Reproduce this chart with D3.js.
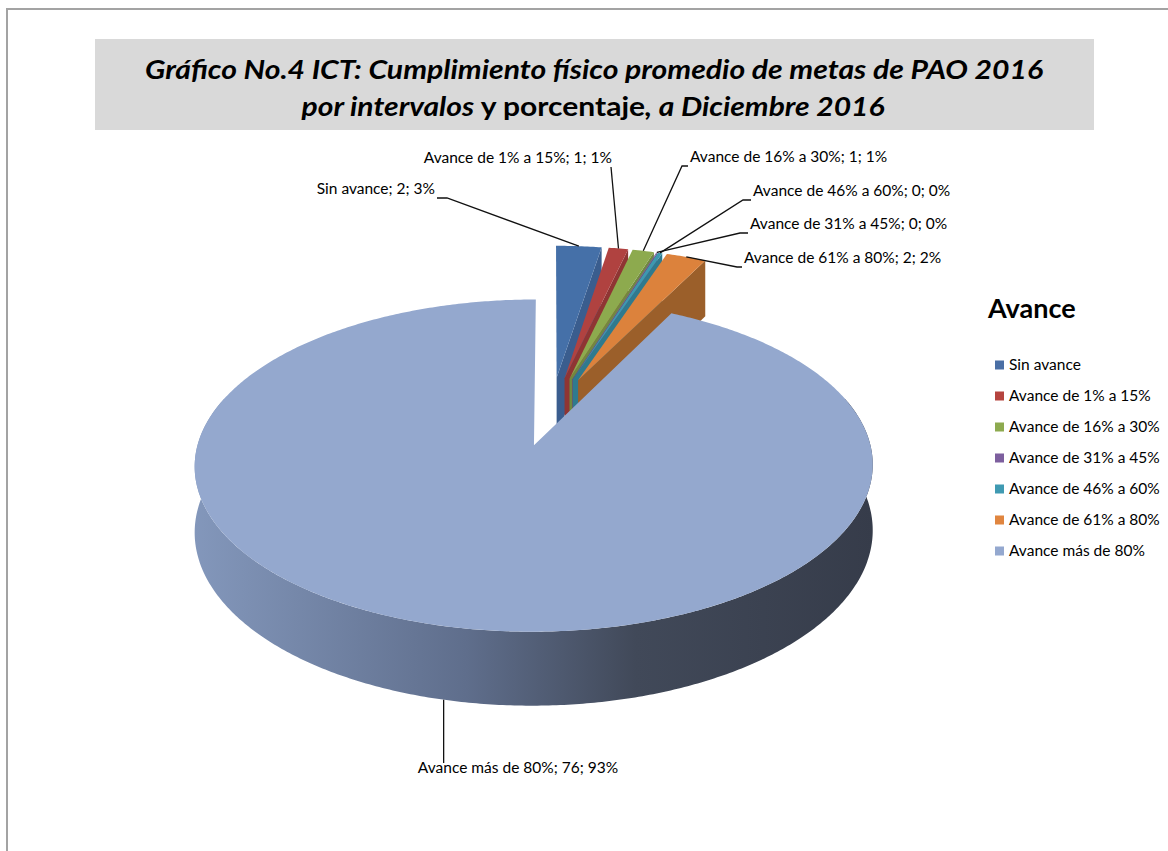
<!DOCTYPE html>
<html>
<head>
<meta charset="utf-8">
<script src="https://cdnjs.cloudflare.com/ajax/libs/d3/7.8.5/d3.min.js"></script>
<style>
  html, body { margin: 0; padding: 0; background: #fff; }
  svg { display: block; }
  text { font-family: Lato, "Open Sans", sans-serif; fill: #000; }
</style>
</head>
<body>
<svg id="chart"></svg>
<script>
/* Data */
const categories = [
  'Sin avance', 'Avance de 1% a 15%', 'Avance de 16% a 30%', 'Avance de 31% a 45%',
  'Avance de 46% a 60%', 'Avance de 61% a 80%', 'Avance más de 80%'
]
// values as drawn (labels show them rounded)
const values = [2.1, 0.9, 1.0, 0.05, 0.2, 1.85, 76.4]

/* Colors */
const TOP = ['#4570a8', '#b04240', '#8daa4e', '#7c5f9d', '#3d98b0', '#dc823c', '#94a8ce']
const WALL = ['#3a5d8e', '#8f3533', '#71893e', '#614a7c', '#2f7a8e', '#9b5f2a', '#5d6b88']
const SWATCH = ['#4a6fa5', '#b5443f', '#8daa4f', '#7d5f9e', '#3f9ab2', '#e0853f', '#94a8cf']

/* label layout: [x, y, anchor, line start x, elbow x] */
const LABELS = [
  [435, 198, 'end', 437, 447],
  [612, 167, 'end', 611, 611],
  [690, 166, 'start', 688, 682],
  [750, 233, 'start', 748, 740],
  [753, 200, 'start', 751, 743],
  [744, 267, 'start', 742, 737],
  [518, 777, 'middle', null, null]
]

const W = 1168, H = 851
const svg = d3.select('#chart').attr('width', W).attr('height', H)

// frame
svg.append('rect').attr('x', 7).attr('y', 9).attr('width', W + 20).attr('height', H + 20)
  .attr('fill', 'none').attr('stroke', '#a3a3a3').attr('stroke-width', 2)

/* perspective of the pie plane */
const V = { cx: 551, cy: 411, a: 155.3, b: 327.8, k: 0.12, c: 63.2, explode: 0.22 }
function proj(X, Z, down) {
  let w = 1 + V.k * Z
  return [V.cx + V.b * X / w, V.cy - V.a * Z / w + (down ? V.c / w : 0)]
}
function arcPts(ox, oz, a0, a1, down) {
  let n = Math.max(2, Math.ceil((a1 - a0) / 0.01))
  return d3.range(n + 1).map(i => {
    let t = a0 + (a1 - a0) * i / n
    return proj(ox + Math.sin(t), oz + Math.cos(t), down)
  })
}
const line = d3.line()
const total = d3.sum(values)

let arcs = d3.pie().sort(null).value(d => d)(values)
arcs.forEach(d => {
  let mid = (d.startAngle + d.endAngle) / 2
  d.ox = V.explode * Math.sin(mid)
  d.oz = V.explode * Math.cos(mid)
  d.mid = mid
})

let defs = svg.append('defs')
let grad = defs.append('linearGradient').attr('id', 'side')
  .attr('gradientUnits', 'userSpaceOnUse')
  .attr('x1', 195).attr('x2', 873).attr('y1', 0).attr('y2', 0)
grad.selectAll('stop')
  .data([[0, '#8397bb'], [0.4, '#5f6e8c'], [0.65, '#414959'], [1, '#363c4a']])
  .enter().append('stop')
  .attr('offset', d => d[0]).attr('stop-color', d => d[1])

let pie = svg.append('g')
let big = arcs[arcs.length - 1]

// small slices (back), cut face then top
arcs.slice(0, -1).forEach((d, i) => {
  let e = d.endAngle
  let wall = [
    proj(d.ox, d.oz), proj(d.ox + Math.sin(e), d.oz + Math.cos(e)),
    proj(d.ox + Math.sin(e), d.oz + Math.cos(e), true), proj(d.ox, d.oz, true)
  ]
  pie.append('path').attr('d', line(wall) + 'Z').attr('fill', WALL[i])
  let topPts = [proj(d.ox, d.oz)].concat(arcPts(d.ox, d.oz, d.startAngle, d.endAngle))
  pie.append('path').attr('d', line(topPts) + 'Z').attr('fill', TOP[i])
})

// big slice: outer side then top
{
  let d = big
  let a0 = Math.max(d.startAngle, Math.PI / 2 - 0.3)
  let a1 = Math.min(d.endAngle, 3 * Math.PI / 2 + 0.3)
  let band = arcPts(d.ox, d.oz, a0, a1).concat(arcPts(d.ox, d.oz, a0, a1, true).reverse())
  pie.append('path').attr('d', line(band) + 'Z').attr('fill', 'url(#side)')
  let topPts = [proj(d.ox, d.oz)].concat(arcPts(d.ox, d.oz, d.startAngle, d.endAngle))
  pie.append('path').attr('d', line(topPts) + 'Z').attr('fill', TOP[6])
}

/* data labels + leader lines */
let lab = svg.append('g')
arcs.forEach((d, i) => {
  let [x, y, anchor, sx, ex] = LABELS[i]
  let rimX = d.ox + Math.sin(d.mid), rimZ = d.oz + Math.cos(d.mid)
  let pts
  if (sx === null) {
    let p = proj(rimX, rimZ, true)
    pts = [p, [p[0], y - 14]]
  } else {
    let p = proj(rimX, rimZ)
    pts = [[sx, y], [ex, y], p]
  }
  lab.append('path').attr('d', line(pts)).attr('fill', 'none')
    .attr('stroke', '#111').attr('stroke-width', 1.3)
  lab.append('text')
    .attr('x', x).attr('y', y - 4)
    .attr('text-anchor', anchor)
    .style('font-size', '15.5px')
    .text(categories[i] + '; ' + Math.round(values[i]) + '; ' + Math.round(values[i] / total * 100) + '%')
})

/* legend */
let leg = svg.append('g')
leg.append('text').attr('x', 988).attr('y', 318)
  .style('font-size', '27px').style('font-weight', 'bold').text('Avance')
let rows = leg.selectAll('.row').data(categories).enter().append('g')
  .attr('transform', (d, i) => 'translate(995,' + (365 + i * 31) + ')')
rows.append('rect').attr('x', 0).attr('y', -4.5).attr('width', 9).attr('height', 9)
  .attr('fill', (d, i) => SWATCH[i])
rows.append('text').attr('x', 14).attr('y', 5).style('font-size', '15.5px').text(d => d)

/* title */
svg.append('rect').attr('x', 95).attr('y', 39).attr('width', 999).attr('height', 91)
  .attr('fill', '#d9d9d9')
svg.append('text').attr('x', 594).attr('y', 79).attr('text-anchor', 'middle')
  .attr('textLength', 898).attr('lengthAdjust', 'spacingAndGlyphs')
  .style('font-size', '27px').style('font-weight', 'bold').style('font-style', 'italic')
  .text('Gráfico No.4 ICT: Cumplimiento físico promedio de metas de PAO 2016')
let t2 = svg.append('text').attr('x', 593).attr('y', 116).attr('text-anchor', 'middle')
  .attr('textLength', 583).attr('lengthAdjust', 'spacingAndGlyphs')
  .style('font-size', '27px').style('font-weight', 'bold').style('font-style', 'italic')
t2.append('tspan').text('por intervalos ')
t2.append('tspan').style('font-style', 'normal').text('y porcentaje')
t2.append('tspan').text(', a Diciembre 2016')
</script>
</body>
</html>
